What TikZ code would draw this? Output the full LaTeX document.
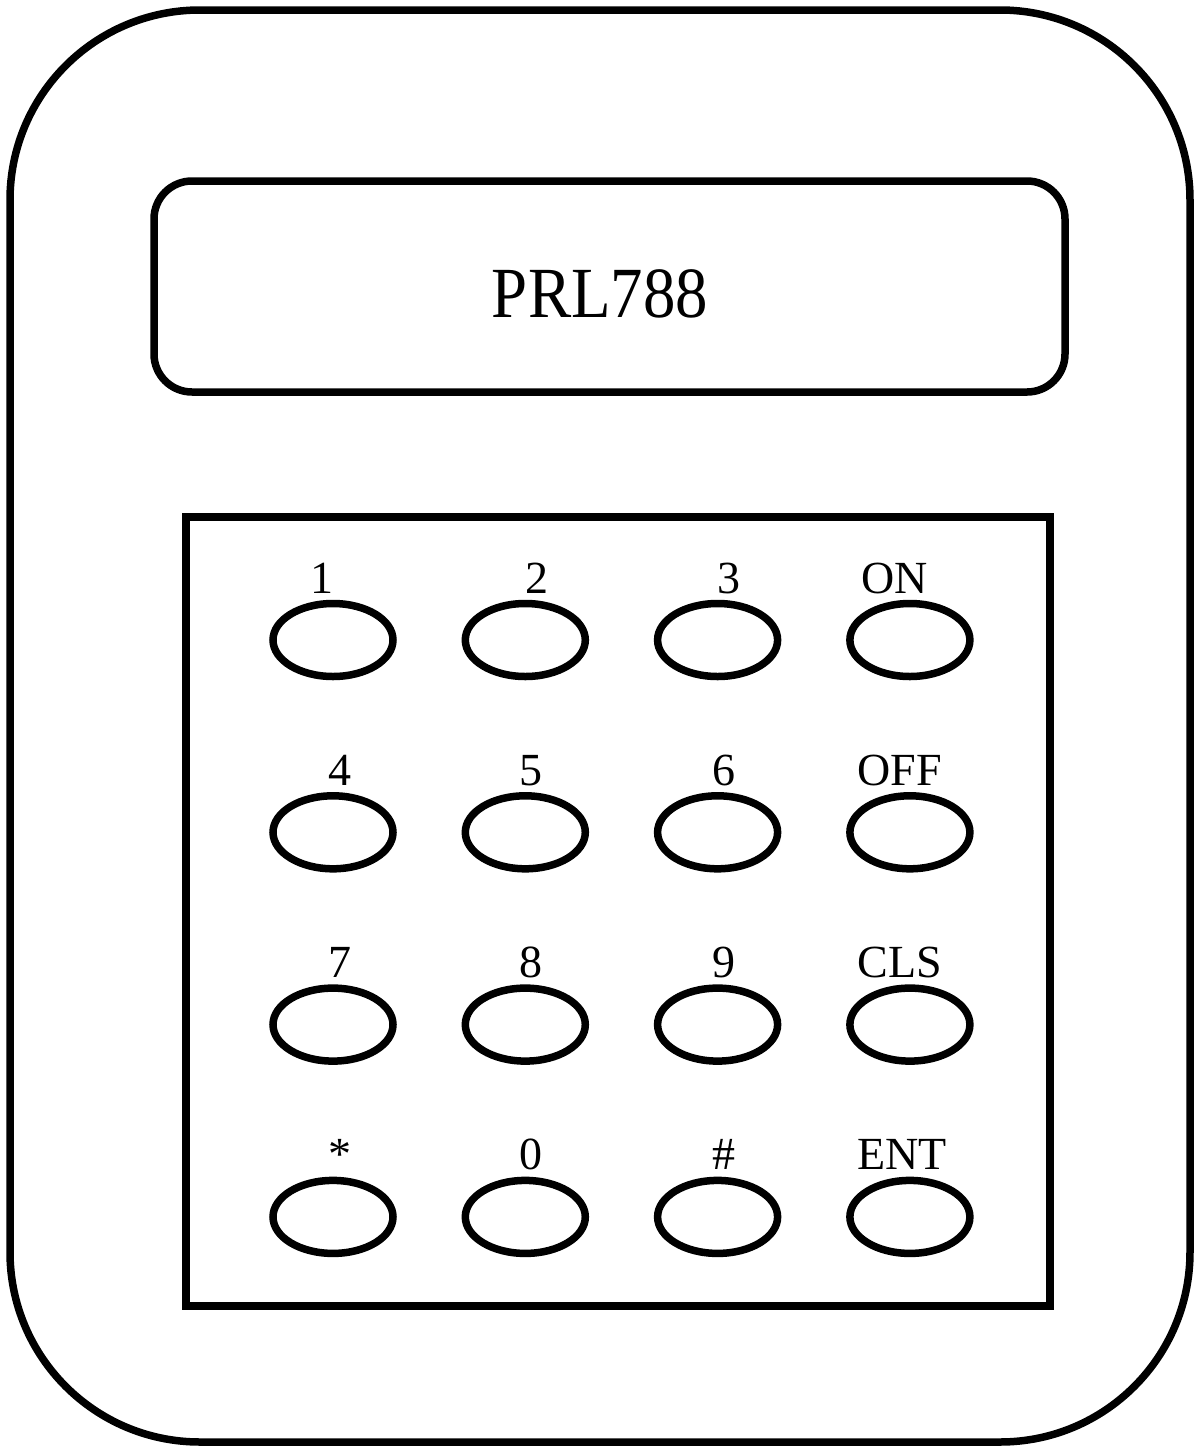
\documentclass[tikz,border=0pt]{standalone}
\usepackage{fontspec}
\setmainfont{Liberation Serif}
\usetikzlibrary{shapes.geometric}
\tikzset{
  keybtn/.style={draw, ellipse, minimum width=60pt, minimum height=36.5pt, inner sep=0pt},
  keylbl/.style={font=\fontsize{23}{27}\selectfont, inner sep=0pt, anchor=base}
}
\begin{document}
\begin{tikzpicture}[x=0.5pt, y=-0.5pt, line width=3.75pt]
\useasboundingbox (0,0) rectangle (1199,1452);
% case
\draw[rounded corners=95pt] (10,10) rectangle (1190,1442);
% display
\draw[rounded corners=19pt] (154,181) rectangle (1065,392);
\node[font=\fontsize{36}{40}\selectfont, inner sep=0pt, anchor=base] (screen) at (600,317) {\scalebox{0.9}[1]{PRL788}};
% keypad
\draw (186,517) rectangle (1050,1306);
\foreach \lbl/\dx [count=\i from 0] in {1/-11,2/12,3/11,ON/-15,4/7,5/6,6/6,OFF/-10,7/7,8/6,9/6,CLS/-10,*/7,0/6,\#/6,ENT/-8}
{
  \pgfmathtruncatemacro\col{mod(\i,4)}
  \pgfmathtruncatemacro\row{div(\i,4)}
  \node[keybtn] (key\i) at (333+192.3*\col, 640+192.3*\row) {};
  \node[keylbl] (lbl\i) at (333+192.3*\col+\dx, 593+192.3*\row) {\lbl};
}
\end{tikzpicture}
\end{document}
